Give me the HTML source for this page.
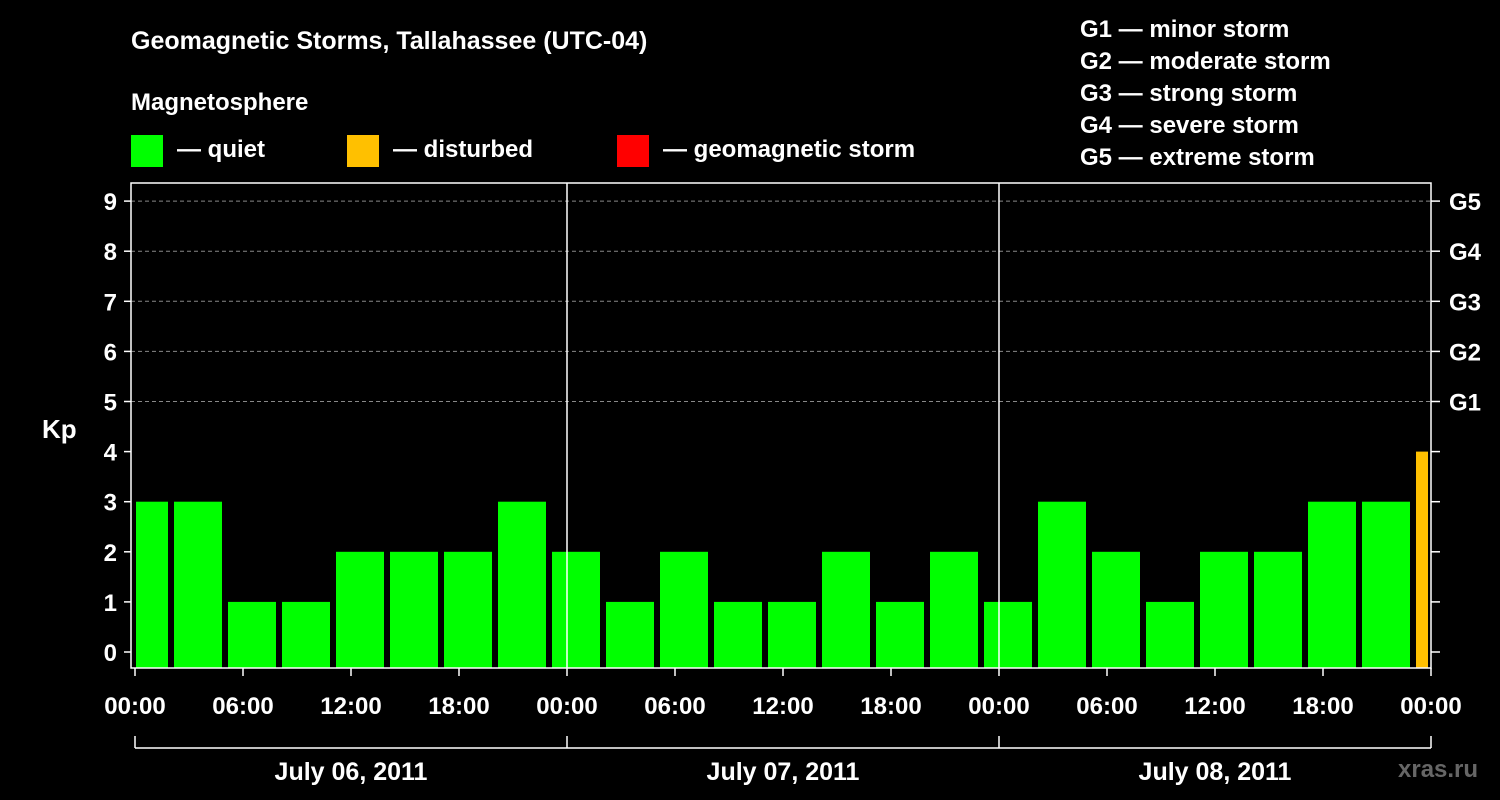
<!DOCTYPE html>
<html><head><meta charset="utf-8"><style>
html,body{margin:0;padding:0;background:#000;}
svg{display:block;font-family:"Liberation Sans",Arial,sans-serif;font-weight:bold;}
</style></head><body>
<svg width="1500" height="800" viewBox="0 0 1500 800">
<rect width="1500" height="800" fill="#000"/>
<text x="131" y="49" fill="#fff" font-size="25">Geomagnetic Storms, Tallahassee (UTC-04)</text>
<text x="131" y="110" fill="#fff" font-size="24">Magnetosphere</text>
<g><rect x="131" y="135" width="32" height="32" fill="#00ff00"/><text x="177" y="157" fill="#fff" font-size="24">— quiet</text></g>
<g><rect x="347" y="135" width="32" height="32" fill="#ffc000"/><text x="393" y="157" fill="#fff" font-size="24">— disturbed</text></g>
<g><rect x="617" y="135" width="32" height="32" fill="#ff0000"/><text x="663" y="157" fill="#fff" font-size="24">— geomagnetic storm</text></g>
<g font-size="24" fill="#fff">
<text x="1080" y="37">G1 — minor storm</text>
<text x="1080" y="69">G2 — moderate storm</text>
<text x="1080" y="101">G3 — strong storm</text>
<text x="1080" y="133">G4 — severe storm</text>
<text x="1080" y="165">G5 — extreme storm</text>
</g>
<text x="42" y="438" fill="#fff" font-size="26">Kp</text>
<text x="1398" y="777" fill="#666" font-size="24">xras.ru</text>
<defs><clipPath id="pc"><rect x="136" y="183" width="1292" height="485"/></clipPath></defs>
<g id="grid"></g>
<g id="bars" clip-path="url(#pc)"></g>
<g id="axes"></g>
</svg>
<script>
const kpValues=[3,3,1,1,2,2,2,3, 2,1,2,1,1,2,1,2, 1,3,2,1,2,2,3,3, 4];
const yTicks=[0,1,2,3,4,5,6,7,8,9];
const gLabels=["G1","G2","G3","G4","G5"];
const xTickLabels=["00:00","06:00","12:00","18:00","00:00","06:00","12:00","18:00","00:00","06:00","12:00","18:00","00:00"];
const dateLabels=["July 06, 2011","July 07, 2011","July 08, 2011"];
const NS="http://www.w3.org/2000/svg";
const x0=135, pxPerHour=18, yZero=652, pxPerUnit=50.1;
const X=h=>x0+h*pxPerHour;
const Y=v=>yZero-v*pxPerUnit;
function mk(tag,attrs,parent,txt){const e=document.createElementNS(NS,tag);for(const k in attrs)e.setAttribute(k,attrs[k]);if(txt!==undefined)e.textContent=txt;document.getElementById(parent).appendChild(e);return e;}
// grid lines
for(const v of [5,6,7,8,9]){
 const l=mk('line',{x1:131,x2:1431,y1:Y(v),y2:Y(v),stroke:'#888','stroke-dasharray':'4,3','stroke-width':1},'grid');
 
 
}
// bars
kpValues.forEach((v,i)=>{
 const c=X(0.5+3*i);
 const color=v>=5?'#ff0000':(v>=4?'#ffc000':'#00ff00');
 const r=mk('rect',{x:c-24,y:Y(v),width:48,height:668-Y(v),fill:color},'bars');
 
 
});
// frame
const fr=mk('rect',{x:131,y:183,width:1300,height:485,fill:'none',stroke:'#fff','stroke-width':1.5},'axes');


for(const d of [1,2]){
 const l=mk('line',{x1:X(24*d),x2:X(24*d),y1:183,y2:668,stroke:'#fff','stroke-width':1.5},'axes');
 
 
}
yTicks.forEach(v=>{
 mk('line',{x1:124,x2:131,y1:Y(v),y2:Y(v),stroke:'#fff','stroke-width':1.5},'axes');
 mk('line',{x1:1431,x2:1440,y1:Y(v),y2:Y(v),stroke:'#fff','stroke-width':1.5},'axes');
 const t=mk('text',{x:117,y:Y(v)+9,fill:'#fff','font-size':24,'text-anchor':'end'},'axes',String(v));
 
 
});
gLabels.forEach((g,i)=>{
 const t=mk('text',{x:1449,y:Y(5+i)+9,fill:'#fff','font-size':24},'axes',g);
 
 
});
xTickLabels.forEach((s,i)=>{
 mk('line',{x1:X(6*i),x2:X(6*i),y1:668,y2:676,stroke:'#fff','stroke-width':1.5},'axes');
 const t=mk('text',{x:X(6*i),y:714,fill:'#fff','font-size':24,'text-anchor':'middle'},'axes',s);
 
 
});
mk('line',{x1:X(0),x2:X(72),y1:748,y2:748,stroke:'#fff','stroke-width':1.5},'axes');
for(let d=0;d<=3;d++) mk('line',{x1:X(24*d),x2:X(24*d),y1:736,y2:748,stroke:'#fff','stroke-width':1.5},'axes');
dateLabels.forEach((s,i)=>{
 const t=mk('text',{x:X(24*i+12),y:780,fill:'#fff','font-size':25,'text-anchor':'middle'},'axes',s);
 
 
});
</script>
</body></html>
